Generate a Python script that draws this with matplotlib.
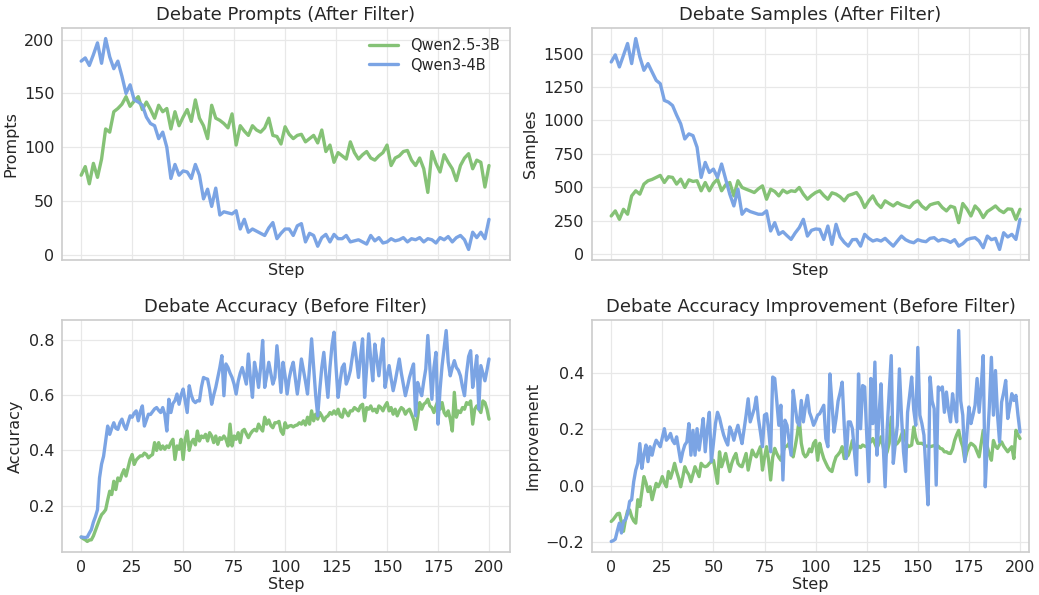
import matplotlib
matplotlib.use("Agg")
import matplotlib.pyplot as plt
import seaborn as sns
from matplotlib.ticker import MultipleLocator

# ---------------- data ----------------
steps_coarse = list(range(0, 201, 2))
steps_fine = list(range(0, 201))
model_names = ["Qwen2.5-3B", "Qwen3-4B"]

prompts_qwen25 = [
    74, 82, 66, 85, 72, 89, 117, 114, 133, 136,
    140, 147, 138, 143, 147, 135, 142, 135, 127, 139,
    133, 136, 117, 133, 120, 128, 135, 124, 144, 127,
    120, 108, 139, 127, 125, 122, 118, 131, 102, 120,
    115, 111, 120, 116, 114, 118, 127, 111, 110, 103,
    119, 112, 108, 111, 112, 105, 108, 111, 104, 116,
    96, 102, 86, 95, 92, 89, 105, 95, 89, 93,
    96, 90, 88, 92, 95, 102, 83, 90, 92, 96,
    97, 88, 83, 90, 80, 58, 96, 85, 77, 93,
    86, 80, 69, 83, 90, 94, 80, 88, 86, 63,
    83]
prompts_qwen3 = [
    180, 183, 176, 186, 197, 178, 201, 184, 173, 180,
    166, 150, 158, 144, 142, 139, 128, 122, 120, 108,
    114, 100, 71, 84, 74, 78, 77, 71, 84, 74,
    52, 61, 45, 62, 37, 40, 39, 38, 41, 24,
    33, 21, 24, 22, 20, 18, 25, 30, 15, 20,
    24, 24, 18, 27, 29, 12, 20, 18, 8, 16,
    19, 12, 19, 15, 15, 18, 12, 13, 14, 12,
    10, 18, 13, 16, 11, 12, 15, 13, 14, 16,
    12, 15, 14, 16, 12, 15, 14, 11, 16, 14,
    17, 12, 16, 18, 14, 5, 21, 16, 21, 15,
    33]

samples_qwen25 = [
    287, 325, 262, 337, 300, 437, 475, 450, 525, 550,
    560, 575, 590, 537, 580, 575, 525, 562, 500, 557,
    545, 550, 475, 537, 475, 530, 562, 475, 520, 537,
    437, 550, 500, 487, 475, 462, 490, 512, 412, 487,
    470, 437, 480, 460, 475, 470, 500, 450, 412, 440,
    462, 475, 440, 412, 460, 450, 430, 400, 440, 450,
    462, 420, 350, 400, 437, 380, 350, 400, 380, 362,
    387, 370, 360, 350, 385, 400, 360, 337, 370, 380,
    387, 350, 325, 360, 350, 237, 380, 340, 287, 362,
    330, 275, 320, 340, 362, 330, 312, 340, 337, 262,
    337]
samples_qwen3 = [
    1437, 1490, 1400, 1487, 1575, 1425, 1612, 1475, 1375, 1425,
    1362, 1300, 1275, 1150, 1137, 1112, 1040, 975, 862, 900,
    887, 800, 575, 687, 612, 637, 575, 675, 562, 450,
    362, 487, 300, 337, 320, 310, 300, 300, 325, 175,
    237, 150, 170, 140, 112, 160, 200, 262, 137, 180,
    190, 187, 112, 212, 75, 225, 130, 90, 62, 110,
    112, 62, 150, 120, 100, 110, 100, 120, 90, 62,
    100, 137, 110, 95, 87, 110, 100, 95, 120, 125,
    100, 112, 105, 90, 110, 62, 80, 110, 120, 125,
    100, 50, 137, 110, 120, 37, 162, 130, 150, 112,
    262]

accuracy_qwen25 = [
    .086, .08, .076, .07, .075, .076, .09, .11, .13, .15,
    .167, .175, .185, .22, .252, .24, .288, .258, .30, .29,
    .313, .33, .307, .337, .367, .385, .349, .365, .373, .38,
    .38, .39, .385, .373, .38, .385, .428, .40, .428, .404,
    .416, .404, .416, .41, .428, .44, .367, .416, .404, .44,
    .367, .44, .47, .40, .428, .44, .42, .47, .434, .452,
    .446, .458, .434, .464, .452, .428, .452, .422, .446, .44,
    .452, .44, .416, .495, .416, .452, .44, .464, .428, .47,
    .476, .46, .446, .46, .47, .476, .47, .495, .48, .47,
    .52, .495, .51, .49, .482, .50, .50, .505, .47, .458,
    .50, .482, .488, .49, .485, .49, .492, .50, .495, .507,
    .492, .52, .495, .543, .507, .531, .513, .537, .525, .507,
    .52, .525, .537, .531, .543, .531, .549, .525, .52, .549,
    .537, .525, .543, .543, .555, .549, .543, .561, .567, .507,
    .555, .549, .561, .543, .549, .537, .561, .555, .543, .561,
    .573, .543, .555, .531, .549, .525, .543, .555, .549, .531,
    .543, .549, .531, .513, .476, .52, .573, .549, .567, .573,
    .585, .561, .555, .537, .561, .579, .549, .573, .537, .525,
    .543, .513, .47, .61, .52, .543, .537, .555, .549, .573,
    .567, .579, .495, .549, .561, .549, .537, .579, .573, .549,
    .513]
accuracy_qwen3 = [
    .086, .085, .084, .086, .10, .113, .14, .16, .185, .30,
    .35, .379, .434, .488, .458, .48, .50, .48, .476, .50,
    .513, .49, .476, .50, .525, .52, .535, .543, .507, .54,
    .561, .488, .51, .531, .53, .54, .55, .555, .545, .537,
    .555, .53, .47, .585, .537, .57, .58, .604, .567, .60,
    .622, .58, .537, .634, .60, .58, .573, .58, .579, .63,
    .664, .66, .658, .62, .567, .60, .628, .664, .70, .743,
    .598, .713, .70, .68, .664, .64, .604, .65, .68, .70,
    .67, .64, .749, .66, .592, .719, .68, .628, .70, .798,
    .628, .67, .719, .68, .64, .664, .779, .70, .61, .719,
    .67, .604, .66, .695, .719, .66, .604, .66, .731, .69,
    .65, .604, .70, .804, .70, .60, .525, .62, .70, .755,
    .67, .592, .70, .78, .828, .70, .592, .65, .70, .713,
    .64, .66, .689, .74, .79, .73, .664, .74, .804, .592,
    .70, .822, .73, .652, .785, .73, .67, .74, .804, .628,
    .67, .707, .66, .616, .65, .69, .731, .68, .64, .598,
    .63, .664, .69, .713, .525, .646, .62, .598, .65, .695,
    .816, .70, .585, .70, .755, .495, .62, .707, .77, .834,
    .72, .67, .70, .725, .70, .69, .67, .63, .598, .68,
    .74, .761, .628, .68, .743, .549, .707, .68, .652, .69,
    .731]

improvement_qwen25 = [
    -.127, -.12, -.11, -.10, -.098, -.13, -.162, -.12, -.09, -.086,
    -.11, -.125, -.133, -.05, -.074, -.02, .032, .01, -.021, -.004,
    -.05, -.02, .008, -.004, .01, .032, .01, -.004, .05, .026,
    .05, .079, .05, .026, -.004, .03, .067, .05, .038, .014,
    .04, .067, .05, .032, .079, .07, .067, .07, .079, .085,
    .09, .05, .008, .12, .067, .09, .114, .08, .05, .08,
    .10, .114, .079, .07, .067, .09, .114, .055, .09, .126,
    .11, .102, .12, .138, .055, .10, .138, .09, .02, .10,
    .132, .114, .10, .09, .12, .138, .14, .15, .12, .102,
    .138, .18, .238, .15, .114, .102, .11, .13, .12, .15,
    .16, .09, .15, .12, .096, .08, .065, .055, .05, .08,
    .102, .11, .12, .138, .096, .10, .108, .13, .16, .126,
    .13, .14, .135, .144, .14, .138, .15, .155, .167, .15,
    .132, .15, .173, .14, .102, .12, .15, .243, .18, .144,
    .15, .16, .18, .196, .16, .138, .14, .144, .208, .17,
    .15, .15, .15, .145, .14, .14, .138, .14, .142, .144,
    .14, .132, .13, .12, .12, .115, .114, .13, .16, .18,
    .196, .16, .138, .09, .12, .14, .15, .145, .138, .12,
    .102, .15, .196, .16, .138, .11, .09, .16, .14, .132,
    .145, .155, .14, .13, .12, .13, .138, .096, .196, .18,
    .167]
improvement_qwen3 = [
    -.198, -.195, -.19, -.16, -.133, -.168, -.127, -.121, -.10, -.056,
    -.05, .014, .055, .079, .149, .061, .11, .144, .085, .138,
    .108, .14, .161, .15, .138, .17, .202, .161, .17, .185,
    .16, .149, .173, .13, .085, .12, .144, .155, .22, .108,
    .196, .108, .202, .126, .18, .238, .12, .20, .26, .085,
    .15, .22, .26, .24, .208, .18, .16, .144, .208, .19,
    .161, .19, .214, .18, .149, .20, .25, .308, .226, .25,
    .273, .314, .238, .19, .138, .25, .255, .20, .12, .385,
    .38, .30, .214, .285, .02, .232, .214, .16, .108, .338,
    .28, .226, .214, .302, .226, .28, .32, .26, .24, .214,
    .23, .25, .255, .27, .285, .167, .138, .396, .29, .19,
    .238, .30, .33, .367, .214, .096, .226, .226, .202, .12,
    .038, .396, .202, .355, .35, .18, .014, .38, .22, .438,
    .108, .25, .361, .155, -.004, .202, .33, .461, .079, .15,
    .214, .414, .25, .12, .05, .26, .32, .385, .27, .214,
    .49, .25, .22, .179, .05, -.068, .385, .30, .273, .002,
    .35, .34, .35, .26, .332, .27, .226, .326, .27, .226,
    .55, .30, .25, .085, .18, .279, .22, .25, .285, .38,
    .26, .35, .461, -.004, .15, .279, .455, .25, .408, .25,
    .155, .296, .33, .373, .238, .28, .326, .302, .32, .25,
    .19]

titles = ["Debate Prompts (After Filter)", "Debate Samples (After Filter)",
          "Debate Accuracy (Before Filter)", "Debate Accuracy Improvement (Before Filter)"]
ylabels = ["Prompts", "Samples", "Accuracy", "Improvement"]
xlabel = "Step"

# ---------------- style ----------------
sns.set_style("whitegrid")
plt.rcParams['font.family'] = ['DejaVu Sans']
GREEN = "#85c276"
BLUE = "#7ba4e4"

W, H = 1039, 595
fig, axes = plt.subplots(2, 2, figsize=(W / 100, H / 100), dpi=100)

# axes boxes in pixels (left, top, right, bottom)
boxes = [(62, 28, 510, 260), (592, 28, 1029, 260),
         (62, 320, 510, 552), (592, 320, 1029, 552)]
xlims = [(-9.4, 210.3), (-9.4, 204.4), (-9.4, 210.3), (-9.4, 204.4)]

panels = [
    (steps_coarse, prompts_qwen25, prompts_qwen3),
    (steps_coarse, samples_qwen25, samples_qwen3),
    (steps_fine, accuracy_qwen25, accuracy_qwen3),
    (steps_fine, improvement_qwen25, improvement_qwen3),
]

for i, (ax, (xs, g, b), title, yl) in enumerate(zip(axes.flat, panels, titles, ylabels)):
    l, t, r, bt = boxes[i]
    ax.set_position([l / W, 1 - bt / H, (r - l) / W, (bt - t) / H])
    ax.plot(xs, g, color=GREEN, lw=2.4, label=model_names[0])
    ax.plot(xs, b, color=BLUE, lw=2.4, label=model_names[1])
    ax.set_xlim(*xlims[i])
    ax.set_title(title, fontsize=13, color="#262626", pad=6)
    ax.set_ylabel(yl, fontsize=11.5, color="#262626")
    ax.set_xlabel(xlabel, fontsize=11.5, color="#262626", labelpad=2)
    ax.xaxis.set_major_locator(MultipleLocator(25))
    ax.tick_params(labelsize=11.5, colors="#262626", pad=2)
    ax.grid(True, color="#e8e8e8", lw=0.9)
    for sp in ax.spines.values():
        sp.set_color("#cccccc")
        sp.set_linewidth(1.2)

for ax in axes[0]:
    ax.tick_params(labelbottom=False)

axes[0, 0].set_yticks([0, 50, 100, 150, 200])
axes[0, 1].set_yticks([0, 250, 500, 750, 1000, 1250, 1500])
axes[1, 0].set_yticks([0.2, 0.4, 0.6, 0.8])
axes[1, 1].set_yticks([-0.2, 0.0, 0.2, 0.4])

axes[0, 0].legend(loc="upper right", fontsize=10.5, frameon=False,
                  handlelength=2.0, borderaxespad=0.3, labelspacing=0.3)

fig.savefig("out.png", dpi=100)
